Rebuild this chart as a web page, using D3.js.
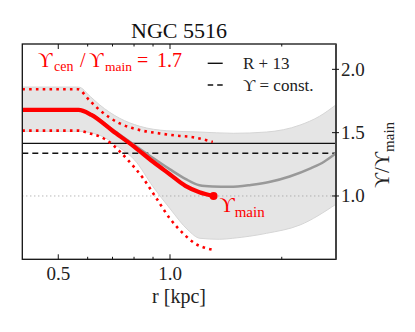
<!DOCTYPE html>
<html lang="en">
<head>
    <meta charset="UTF-8">
    <title>NGC 5516</title>
    <script src="https://d3js.org/d3.v7.min.js"></script>
    <style>
        body, html {
            margin: 0;
            padding: 0;
            background: #fff;
        }
        svg text {
            font-family: "Liberation Serif", "DejaVu Serif", serif;
        }
    </style>
</head>
<body>
    <div id="chart"></div>
    <script>
        // values (r in kpc, y = Upsilon / Upsilon_main)
        const redR = [0.40, 0.567, 0.614, 0.70, 0.80, 0.90, 1.00, 1.10, 1.20, 1.31];
        const redV = [1.68, 1.68, 1.64, 1.515, 1.39, 1.27, 1.17, 1.08, 1.03, 1.00];

        const redUpR = [0.40, 0.565, 0.607, 0.646, 0.732, 0.829, 0.938, 1.062, 1.13, 1.304];
        const redUpV = [1.843, 1.843, 1.754, 1.679, 1.573, 1.52, 1.494, 1.474, 1.468, 1.427];

        const redLoR = [0.40, 0.567, 0.607, 0.646, 0.688, 0.732, 0.770, 0.846, 0.919, 0.998, 1.096, 1.166, 1.254, 1.312];
        const redLoV = [1.516, 1.516, 1.494, 1.470, 1.423, 1.352, 1.284, 1.140, 0.982, 0.824, 0.692, 0.626, 0.587, 0.573];

        const grayR = [0.40, 0.567, 0.614, 0.70, 0.80, 0.90, 1.00, 1.10, 1.20, 1.30, 1.45, 1.65, 1.85, 2.10, 2.40, 2.60, 2.80];
        const grayV = [1.68, 1.68, 1.645, 1.525, 1.405, 1.30, 1.21, 1.135, 1.085, 1.075, 1.072, 1.087, 1.11, 1.154, 1.22, 1.27, 1.337];

        const bandUpR = [0.40, 0.567, 0.61, 0.646, 0.73, 0.83, 0.98, 1.20, 1.48, 1.82, 2.24, 2.53, 2.80];
        const bandUpV = [1.86, 1.86, 1.785, 1.72, 1.615, 1.55, 1.515, 1.505, 1.495, 1.505, 1.56, 1.63, 1.72];

        const bandLoR = [0.40, 0.567, 0.646, 0.732, 0.803, 0.90, 0.998, 1.118, 1.203, 1.361, 1.476, 1.819, 2.24, 2.80];
        const bandLoV = [1.51, 1.51, 1.48, 1.38, 1.284, 1.073, 0.903, 0.731, 0.666, 0.658, 0.666, 0.705, 0.771, 0.935];

        const r13Level = 1.415;     // solid black, "R + 13"
        const constLevel = 1.337;   // dashed black, "Upsilon = const."
        const unityLevel = 1.0;     // dotted gray
        const ratioText = "1.7";

        const xMajor = [0.5, 1.0];
        const xMajorLabels = ["0.5", "1.0"];
        const xMinor = [0.6, 0.7, 0.8, 0.9, 2.0];
        const yTicks = [1.0, 1.5, 2.0];
        const yTickLabels = ["1.0", "1.5", "2.0"];

        const width = 415, height = 332;
        const pLeft = 22.3, pRight = 336, pTop = 44, pBottom = 259.3;

        const x = d3.scaleLog().domain([0.4, 2.8]).range([pLeft, pRight]);
        const y = d3.scaleLinear().domain([0.5, 2.2]).range([pBottom, pTop]);

        const svg = d3.select("#chart").append("svg")
            .attr("width", width)
            .attr("height", height);

        svg.append("defs").append("clipPath").attr("id", "clip")
            .append("rect")
            .attr("x", pLeft).attr("y", pTop)
            .attr("width", pRight - pLeft).attr("height", pBottom - pTop);

        const plot = svg.append("g").attr("clip-path", "url(#clip)");

        const zip = (rs, vs) => rs.map((r, i) => [r, vs[i]]);
        const line = d3.line()
            .x(d => x(d[0]))
            .y(d => y(d[1]))
            .curve(d3.curveMonotoneX);

        // shaded band: upper edge, then lower edge walked backwards
        const upPath = line(zip(bandUpR, bandUpV));
        const loPath = line(zip(bandLoR, bandLoV).reverse());
        plot.append("path")
            .attr("d", upPath + "L" + loPath.slice(1) + "Z")
            .attr("fill", "#e5e5e5")
            .attr("stroke", "#d5d5d5")
            .attr("stroke-width", 1);

        // horizontal reference lines
        plot.append("line")
            .attr("x1", pLeft).attr("x2", pRight)
            .attr("y1", y(unityLevel)).attr("y2", y(unityLevel))
            .attr("stroke", "#999")
            .attr("stroke-width", 1)
            .attr("stroke-dasharray", "1,3");

        plot.append("line")
            .attr("x1", pLeft).attr("x2", pRight)
            .attr("y1", y(r13Level)).attr("y2", y(r13Level))
            .attr("stroke", "#111")
            .attr("stroke-width", 1.4);

        plot.append("line")
            .attr("x1", pLeft).attr("x2", pRight)
            .attr("y1", y(constLevel)).attr("y2", y(constLevel))
            .attr("stroke", "#111")
            .attr("stroke-width", 1.4)
            .attr("stroke-dasharray", "6,4");

        // gray profile
        plot.append("path")
            .attr("d", line(zip(grayR, grayV)))
            .attr("fill", "none")
            .attr("stroke", "#999")
            .attr("stroke-width", 2.5);

        // red dotted limits
        [zip(redUpR, redUpV), zip(redLoR, redLoV)].forEach(pts => {
            plot.append("path")
                .attr("d", line(pts))
                .attr("fill", "none")
                .attr("stroke", "#ff0000")
                .attr("stroke-width", 2.6)
                .attr("stroke-dasharray", "2.6,4.2");
        });

        // red main profile
        plot.append("path")
            .attr("d", line(zip(redR, redV)))
            .attr("fill", "none")
            .attr("stroke", "#ff0000")
            .attr("stroke-width", 4.2)
            .attr("stroke-linejoin", "round");

        const last = redR.length - 1;
        plot.append("circle")
            .attr("cx", x(redR[last]))
            .attr("cy", y(redV[last]))
            .attr("r", 4)
            .attr("fill", "#ff0000");

        // frame
        svg.append("rect")
            .attr("x", pLeft).attr("y", pTop)
            .attr("width", pRight - pLeft).attr("height", pBottom - pTop)
            .attr("fill", "none")
            .attr("stroke", "#111")
            .attr("stroke-width", 1.3);
        svg.append("line")
            .attr("x1", pRight).attr("x2", pRight)
            .attr("y1", pTop).attr("y2", pBottom)
            .attr("stroke", "#444")
            .attr("stroke-width", 2);

        // x ticks (inward, top and bottom)
        const ticks = svg.append("g").attr("stroke", "#111").attr("stroke-width", 1);
        xMajor.forEach(v => {
            ticks.append("line").attr("x1", x(v)).attr("x2", x(v)).attr("y1", pBottom).attr("y2", pBottom - 5);
            ticks.append("line").attr("x1", x(v)).attr("x2", x(v)).attr("y1", pTop).attr("y2", pTop + 5);
        });
        xMinor.forEach(v => {
            ticks.append("line").attr("x1", x(v)).attr("x2", x(v)).attr("y1", pBottom).attr("y2", pBottom - 2.5);
            ticks.append("line").attr("x1", x(v)).attr("x2", x(v)).attr("y1", pTop).attr("y2", pTop + 2.5);
        });
        yTicks.forEach(v => {
            ticks.append("line").attr("x1", pRight - 4).attr("x2", pRight + 3).attr("y1", y(v)).attr("y2", y(v));
        });

        svg.selectAll(".xlab").data(xMajor).enter().append("text")
            .attr("x", d => x(d))
            .attr("y", 280)
            .attr("text-anchor", "middle")
            .attr("font-size", 19)
            .attr("fill", "#222")
            .text((d, i) => xMajorLabels[i]);

        svg.selectAll(".ylab").data(yTicks).enter().append("text")
            .attr("x", 341)
            .attr("y", d => y(d) + 6.5)
            .attr("font-size", 19)
            .attr("fill", "#222")
            .text((d, i) => yTickLabels[i]);

        // titles
        svg.append("text")
            .attr("x", 179).attr("y", 38)
            .attr("text-anchor", "middle")
            .attr("font-size", 22)
            .attr("fill", "#111")
            .text("NGC 5516");

        svg.append("text")
            .attr("x", 179).attr("y", 303)
            .attr("text-anchor", "middle")
            .attr("font-size", 20)
            .attr("fill", "#222")
            .text("r [kpc]");

        const yl = svg.append("text")
            .attr("transform", "translate(389,155) rotate(-90)")
            .attr("text-anchor", "middle")
            .attr("font-size", 21)
            .attr("fill", "#222");
        yl.append("tspan").text("ϒ/ϒ");
        yl.append("tspan").attr("font-size", 15).attr("dy", 5).text("main");

        // red annotation, pieces placed one by one like the math layout
        const ann = svg.append("text")
            .attr("y", 67)
            .attr("font-size", 20)
            .attr("fill", "#ff0000");
        ann.append("tspan").attr("x", 38).text("ϒ");
        ann.append("tspan").attr("x", 54).attr("font-size", 14).attr("dy", 4).text("cen");
        ann.append("tspan").attr("x", 80).attr("dy", -4).text("/");
        ann.append("tspan").attr("x", 89).text("ϒ");
        ann.append("tspan").attr("x", 105).attr("font-size", 13.5).attr("dy", 4).text("main");
        ann.append("tspan").attr("x", 137).attr("dy", -4).text("=");
        ann.append("tspan").attr("x", 157).text(ratioText);

        const lab = svg.append("text")
            .attr("x", x(redR[last]) + 6).attr("y", 212)
            .attr("font-size", 21)
            .attr("fill", "#ff0000");
        lab.append("tspan").text("ϒ");
        lab.append("tspan").attr("font-size", 15).attr("dy", 5).text("main");

        // legend
        const legend = svg.append("g");
        legend.append("line")
            .attr("x1", 207.7).attr("x2", 222.7).attr("y1", 63.3).attr("y2", 63.3)
            .attr("stroke", "#111").attr("stroke-width", 1.4);
        legend.append("line")
            .attr("x1", 207.7).attr("x2", 222.7).attr("y1", 85).attr("y2", 85)
            .attr("stroke", "#111").attr("stroke-width", 1.4)
            .attr("stroke-dasharray", "5.5,4");
        legend.append("text")
            .attr("x", 243).attr("y", 69)
            .attr("font-size", 17).attr("fill", "#222")
            .text("R + 13");
        legend.append("text")
            .attr("x", 243).attr("y", 91)
            .attr("font-size", 17).attr("fill", "#222")
            .text("ϒ = const.");
    </script>
</body>
</html>
